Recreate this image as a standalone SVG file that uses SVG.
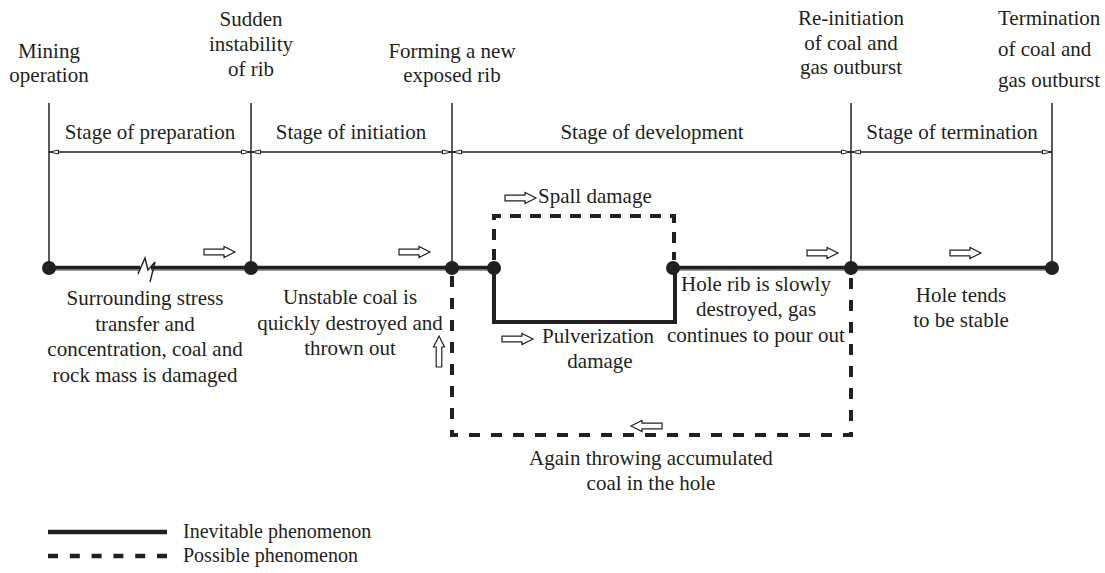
<svg xmlns="http://www.w3.org/2000/svg" xmlns:xlink="http://www.w3.org/1999/xlink" width="1105" height="573" viewBox="0 0 1105 573">
<style>
text{font-family:"Liberation Serif","Times New Roman",serif;font-size:21px;fill:#231f20}
.m{text-anchor:middle}
.leg{font-size:20px}
.vline{stroke:#231f20;stroke-width:1.5;fill:none}
.dim{stroke:#231f20;stroke-width:1.3;fill:none;marker-start:url(#dimhead);marker-end:url(#dimhead)}
.main{stroke:#231f20;stroke-width:4.5;fill:none}
.mainhl{stroke:#8a8a8a;stroke-width:1.4;fill:none}
.solid{stroke:#231f20;stroke-width:4;fill:none;stroke-linejoin:miter}
.dash{stroke:#231f20;stroke-width:4;fill:none;stroke-dasharray:11 11}
.node{fill:#231f20}
.harrow{fill:#fff;stroke:#231f20;stroke-width:1.2}
</style>
<defs>
<marker id="dimhead" viewBox="0 0 10 6" refX="10" refY="3" markerWidth="10" markerHeight="6" markerUnits="userSpaceOnUse" orient="auto-start-reverse">
<path d="M0.5,1 L9.5,3 L0.5,5 Z" fill="#fff" stroke="#231f20" stroke-width="1"/>
</marker>
<path id="ha" d="M0,-2.8 L20,-2.8 L20,-5.5 L31,0 L20,5.5 L20,2.8 L0,2.8 Z"/>
</defs>

<!-- event labels -->
<g id="n-mining"><text class="m" x="49" y="58">Mining</text><text class="m" x="49" y="82">operation</text></g>
<g id="n-sudden"><text class="m" x="251" y="26">Sudden</text><text class="m" x="251" y="51">instability</text><text class="m" x="251" y="76">of rib</text></g>
<g id="n-forming"><text class="m" x="452" y="58">Forming a new</text><text class="m" x="452" y="82">exposed rib</text></g>
<g id="n-reinit"><text class="m" x="851" y="25">Re-initiation</text><text class="m" x="851" y="50">of coal and</text><text class="m" x="851" y="74">gas outburst</text></g>
<g id="n-term"><text x="998" y="25">Termination</text><text x="998" y="56">of coal and</text><text x="998" y="87">gas outburst</text></g>

<!-- stage dimension lines -->
<g id="stages">
<line class="vline" x1="49" y1="103" x2="49" y2="268"/>
<line class="vline" x1="251" y1="103" x2="251" y2="268"/>
<line class="vline" x1="452" y1="103" x2="452" y2="268"/>
<line class="vline" x1="851" y1="103" x2="851" y2="268"/>
<line class="vline" x1="1052" y1="103" x2="1052" y2="268"/>
<line class="dim" x1="49" y1="152" x2="251" y2="152"/>
<line class="dim" x1="251" y1="152" x2="452" y2="152"/>
<line class="dim" x1="452" y1="152" x2="851" y2="152"/>
<line class="dim" x1="851" y1="152" x2="1052" y2="152"/>
<text class="m" x="150" y="139">Stage of preparation</text>
<text class="m" x="351" y="139">Stage of initiation</text>
<text class="m" x="652" y="139">Stage of development</text>
<text class="m" x="952" y="139">Stage of termination</text>
</g>

<!-- connectors -->
<g id="connectors">
<path class="main" d="M49,268 H140 M151,268 H494 M673,268 H1052"/>
<path class="mainhl" d="M49,270 H140 M151,270 H494 M673,270 H1052"/>
<polyline points="138,274 145,258 148,270 155,262 150,282" fill="none" stroke="#231f20" stroke-width="1.4"/>
<path class="solid" d="M494,268 V322 H675 V268"/>
<path class="dash" style="stroke-dasharray:11 9" d="M494,260 V216 H674 V260"/>
<path class="dash" d="M452,276 V435 H851 V276"/>
</g>

<!-- nodes -->
<g id="nodes">
<circle class="node" cx="49" cy="268" r="7"/>
<circle class="node" cx="251" cy="268" r="7"/>
<circle class="node" cx="452" cy="268" r="7"/>
<circle class="node" cx="494" cy="268" r="7"/>
<circle class="node" cx="673" cy="268" r="7"/>
<circle class="node" cx="851" cy="268" r="7"/>
<circle class="node" cx="1052" cy="268" r="7"/>
</g>

<!-- hollow direction arrows -->
<g id="arrows">
<use href="#ha" xlink:href="#ha" class="harrow" transform="translate(204,252)"/>
<use href="#ha" xlink:href="#ha" class="harrow" transform="translate(399,252)"/>
<use href="#ha" xlink:href="#ha" class="harrow" transform="translate(807,253)"/>
<use href="#ha" xlink:href="#ha" class="harrow" transform="translate(950,253)"/>
<use href="#ha" xlink:href="#ha" class="harrow" transform="translate(505,198)"/>
<use href="#ha" xlink:href="#ha" class="harrow" transform="translate(502,339)"/>
<use href="#ha" xlink:href="#ha" class="harrow" transform="translate(662,426) scale(-1,1)"/>
<use href="#ha" xlink:href="#ha" class="harrow" transform="translate(439,367) rotate(-90)"/>
</g>

<!-- phenomenon labels -->
<g id="l-prep"><text class="m" x="145" y="305">Surrounding stress</text><text class="m" x="145" y="331">transfer and</text><text class="m" x="145" y="356">concentration, coal and</text><text class="m" x="145" y="382">rock mass is damaged</text></g>
<g id="l-init"><text class="m" x="350" y="304">Unstable coal is</text><text class="m" x="350" y="330">quickly destroyed and</text><text class="m" x="350" y="355">thrown out</text></g>
<g id="l-spall"><text x="538" y="203">Spall damage</text></g>
<g id="l-pulv"><text x="542" y="343">Pulverization</text><text class="m" x="600" y="368">damage</text></g>
<g id="l-hole"><text class="m" x="756" y="291">Hole rib is slowly</text><text class="m" x="756" y="316">destroyed, gas</text><text class="m" x="756" y="342">continues to pour out</text></g>
<g id="l-stable"><text class="m" x="961" y="302">Hole tends</text><text class="m" x="961" y="327">to be stable</text></g>
<g id="l-again"><text class="m" x="651" y="465">Again throwing accumulated</text><text class="m" x="651" y="490">coal in the hole</text></g>

<!-- legend -->
<g id="legend">
<line x1="48" y1="532" x2="167" y2="532" stroke="#231f20" stroke-width="4.5"/>
<line x1="48" y1="556" x2="167" y2="556" stroke="#231f20" stroke-width="4.5" stroke-dasharray="10 11.8"/>
<text class="leg" x="183" y="538">Inevitable phenomenon</text>
<text class="leg" x="183" y="562">Possible phenomenon</text>
</g>
</svg>
